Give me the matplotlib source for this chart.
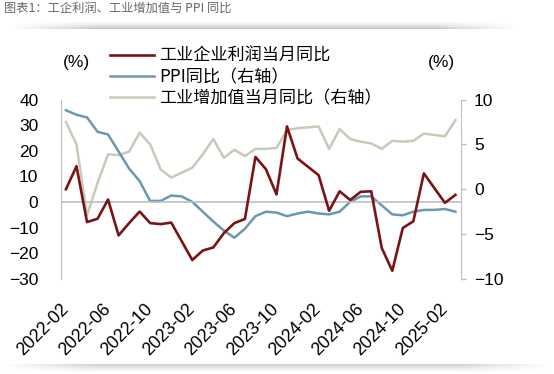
import matplotlib.pyplot as plt
import numpy as np

months = ['2022-02', '2022-03', '2022-04', '2022-05', '2022-06', '2022-07', '2022-08',
          '2022-09', '2022-10', '2022-11', '2022-12',
          '2023-01', '2023-02', '2023-03', '2023-04', '2023-05', '2023-06', '2023-07',
          '2023-08', '2023-09', '2023-10', '2023-11', '2023-12',
          '2024-01', '2024-02', '2024-03', '2024-04', '2024-05', '2024-06', '2024-07',
          '2024-08', '2024-09', '2024-10', '2024-11', '2024-12',
          '2025-01', '2025-02', '2025-03']

# 工业企业利润当月同比 (%), 1月与2月合并公布 -> None
profit = [5.0, 14.0, -7.8, -6.5, 1.0, -13.0, -8.2, -3.7, -8.2, -8.6, -8.0,
          None, -22.6, -18.9, -17.7, -12.1, -8.2, -6.6, 17.6, 12.8, 3.0, 29.5, 17.0,
          None, 10.5, -3.4, 4.2, 0.8, 4.0, 4.2, -17.9, -26.8, -10.1, -7.5, 11.2,
          None, -0.3, 2.8]
# PPI同比 (%), 右轴
ppi = [8.8, 8.3, 8.0, 6.4, 6.1, 4.2, 2.3, 0.9, -1.3, -1.3, -0.7,
       -0.8, -1.4, -2.5, -3.6, -4.6, -5.4, -4.4, -3.0, -2.5, -2.6, -3.0, -2.7,
       -2.5, -2.7, -2.8, -2.5, -1.4, -0.8, -0.8, -1.8, -2.8, -2.9, -2.5, -2.3,
       -2.3, -2.2, -2.5]
# 工业增加值当月同比 (%), 右轴
iva = [7.5, 5.0, -2.9, 0.7, 3.9, 3.8, 4.2, 6.3, 5.0, 2.2, 1.3,
       None, 2.4, 3.9, 5.6, 3.5, 4.4, 3.7, 4.5, 4.5, 4.6, 6.6, 6.8,
       None, 7.0, 4.5, 6.7, 5.6, 5.3, 5.1, 4.5, 5.4, 5.3, 5.4, 6.2,
       None, 5.9, 7.7]

left_ticks = [-30, -20, -10, 0, 10, 20, 30, 40]
right_ticks = [-10, -5, 0, 5, 10]

RED = '#7a1414'
BLUE = '#6a98b0'
BEIGE = '#c9c9ba'
GRID = '#bfbfbf'

plt.rcParams['font.family'] = ['Liberation Sans', 'Noto Sans CJK SC', 'DejaVu Sans']


def valid(vals):
    idx = [i for i, v in enumerate(vals) if v is not None]
    return idx, [vals[i] for i in idx]


W, H = 554, 374
fig = plt.figure(figsize=(W / 100, H / 100), dpi=100)

# soft shadows under the title bar and at the bottom
bg = fig.add_axes([0, 0, 1, 1], zorder=-5)
bg.set_xlim(0, W)
bg.set_ylim(H, 0)
bg.axis('off')
xs = np.linspace(0, 1, 200)
fade = np.clip(np.minimum(xs, 1 - xs) * 6, 0, 1)
top_band = np.outer(np.linspace(0, 1, 8) ** 1.5, fade) * 0.22
bg.imshow(np.zeros_like(top_band), cmap='gray', alpha=top_band,
          extent=(10, 520, 29, 20), aspect='auto', vmin=0, vmax=1)
bot_band = np.outer(np.linspace(1, 0, 8) ** 1.5, fade) * 0.18
bg.imshow(np.zeros_like(bot_band), cmap='gray', alpha=bot_band,
          extent=(0, 554, 374, 364), aspect='auto', vmin=0, vmax=1)

fig.text(4 / W, 1 - 8 / H, '图表1：工企利润、工业增加值与 PPI 同比',
         fontsize=8.8, color='#666666', va='center', ha='left',
         family=['Noto Sans CJK SC', 'DejaVu Sans'])

ax = fig.add_axes([60.7 / W, 1 - 279 / H, 400 / W, 179.5 / H])
ax2 = ax.twinx()

x_p, y_p = valid(profit)
x_i, y_i = valid(iva)
ln2, = ax2.plot(range(len(ppi)), ppi, color=BLUE, lw=1.8, zorder=2)
ln3, = ax2.plot(x_i, y_i, color=BEIGE, lw=1.8, zorder=1)
ln1, = ax.plot(x_p, y_p, color=RED, lw=1.9, zorder=3)
ax.set_zorder(ax2.get_zorder() + 1)
ax.patch.set_visible(False)

ax.axhline(0, color=GRID, lw=1.2, zorder=0)

ax.set_xlim(-0.5, len(months) - 0.5)
ax.set_ylim(-30, 40)
ax2.set_ylim(-10, 10)
ax.set_yticks(left_ticks)
ax2.set_yticks(right_ticks)

for s in ['top', 'bottom', 'right']:
    ax.spines[s].set_visible(False)
for s in ['top', 'bottom', 'left']:
    ax2.spines[s].set_visible(False)
ax.spines['left'].set_color(GRID)
ax2.spines['right'].set_color(GRID)

ax.tick_params(axis='y', length=0, pad=16, labelsize=12.5)
ax2.tick_params(axis='y', length=3.5, width=1, color=GRID, pad=6, labelsize=12.5)

tick_idx = list(range(0, len(months), 4))
ax.set_xticks(tick_idx)
ax.set_xticklabels([months[i] for i in tick_idx], rotation=45, ha='right',
                   va='center', rotation_mode='anchor')
ax.tick_params(axis='x', length=0, pad=20, labelsize=12.8)

fig.text(63 / W, 1 - 63 / H, '(%)', fontsize=12.5, va='center', ha='left')
fig.text(428 / W, 1 - 63 / H, '(%)', fontsize=12.5, va='center', ha='left')

fig.legend([ln1, ln2, ln3],
           ['工业企业利润当月同比', 'PPI同比（右轴）', '工业增加值当月同比（右轴）'],
           loc='upper left', bbox_to_anchor=(110 / W, 1 - 47 / H),
           frameon=False, handlelength=2.6, handletextpad=0.3,
           labelspacing=0.18, borderpad=0, borderaxespad=0,
           prop={'family': ['Noto Sans CJK SC', 'DejaVu Sans'], 'size': 12.3})

fig.savefig('out.png', dpi=100, facecolor='white')
